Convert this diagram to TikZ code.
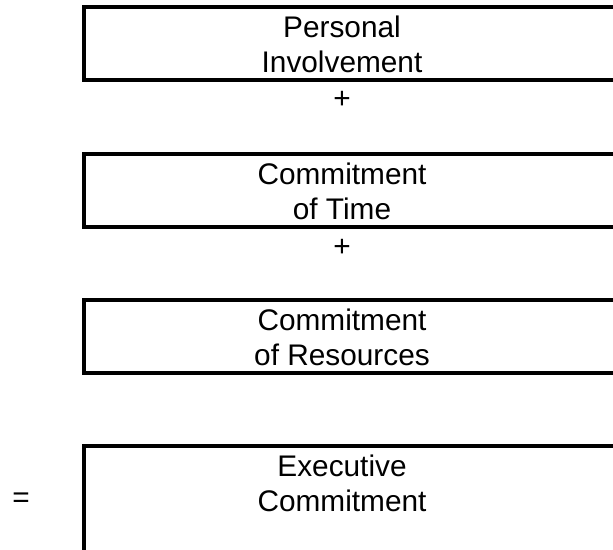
\documentclass[tikz,border=0pt]{standalone}
\usepackage{fontspec}
\setmainfont{Liberation Sans}
\begin{document}
\begin{tikzpicture} [
        x=1bp, y=-1bp,
        panel/.style = {draw,rectangle,line width=4bp,minimum width=616bp,inner sep=0pt},
        caption/.style = {align=center,inner sep=0pt,anchor=base,font=\fontsize{29.8bp}{35bp}\selectfont},
        sign/.style = {inner sep=0pt,font=\fontsize{29.8bp}{35bp}\selectfont},
    ]
    \useasboundingbox (0,0) rectangle (613,550);
    \clip (0,0) rectangle (613,550);
    % First we draw the boxes, open to the right, with their texts
    \foreach \name/\ypos/\high/\base/\txt in {
            {involve/44/73/72.5/{Personal\\Involvement}},
            {time/190.5/73/220/{Commitment\\of Time}},
            {resources/336.5/73/365/{Commitment\\of Resources}},
            {executive/523/154/511.5/{Executive\\Commitment}}}
    {
        \node[panel,minimum height=\high bp] (\name box) at (392,\ypos) {};
        \node[caption] (\name) at (342,\base) {\txt};
    }
    % Then the signs between them
    \node[sign] (plus1) at (342,100) {+};
    \node[sign] (plus2) at (342,247.5) {+};
    \node[sign] (equals) at (21,500.5) {=};
\end{tikzpicture}
\end{document}
